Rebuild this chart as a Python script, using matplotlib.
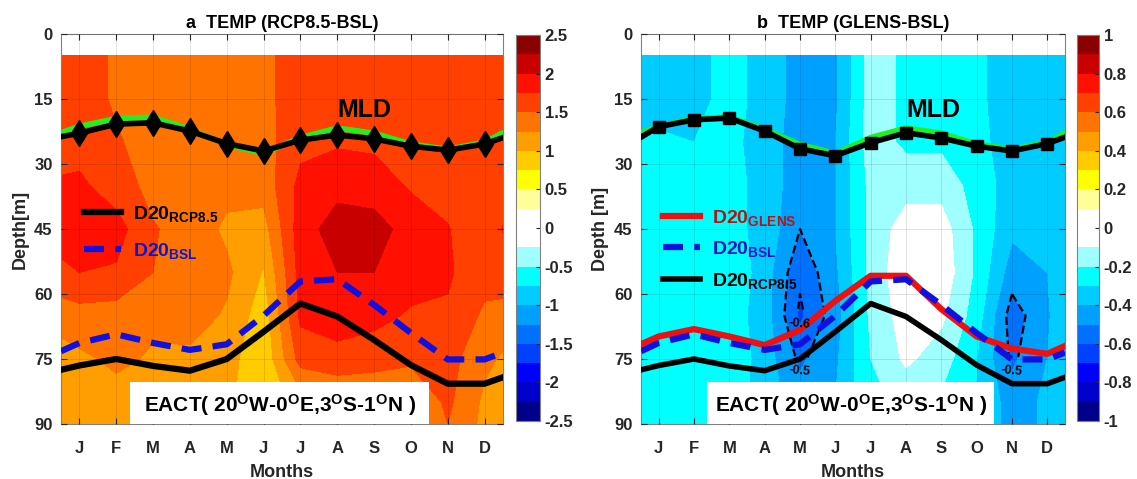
import numpy as np
import matplotlib
matplotlib.use('Agg')
import matplotlib.pyplot as plt
from matplotlib.patches import Rectangle
from matplotlib.ticker import FuncFormatter

plt.rcParams['font.family'] = ['Liberation Sans', 'DejaVu Sans']
plt.rcParams['font.weight'] = 'bold'
plt.rcParams['mathtext.fontset'] = 'custom'
plt.rcParams['mathtext.rm'] = 'Liberation Sans:bold'
plt.rcParams['mathtext.bf'] = 'Liberation Sans:bold'
plt.rcParams['mathtext.it'] = 'Liberation Sans:bold'
plt.rcParams['mathtext.default'] = 'bf'

# months (with the half-month edges used to close the annual cycle)
month_labels = ['J', 'F', 'M', 'A', 'M', 'J', 'J', 'A', 'S', 'O', 'N', 'D']
mon = [0.5, 1, 2, 3, 4, 5, 6, 7, 8, 9, 10, 11, 12, 12.5]
depth = [5, 15, 25, 35, 45, 55, 65, 75, 85, 90]

# TEMP difference RCP8.5 - BSL (degC), rows = depth, cols = mon
temp_rcp = [
    [1.60, 1.60, 1.47, 1.40, 1.40, 1.40, 1.45, 1.60, 1.65, 1.65, 1.65, 1.65, 1.62, 1.60],
    [1.60, 1.60, 1.47, 1.40, 1.40, 1.40, 1.45, 1.60, 1.65, 1.65, 1.65, 1.65, 1.62, 1.60],
    [1.65, 1.65, 1.52, 1.42, 1.35, 1.35, 1.40, 1.68, 1.72, 1.70, 1.65, 1.65, 1.62, 1.62],
    [1.78, 1.80, 1.62, 1.42, 1.40, 1.33, 1.35, 1.82, 1.92, 1.88, 1.72, 1.68, 1.62, 1.65],
    [1.85, 1.88, 1.85, 1.52, 1.40, 1.20, 1.15, 1.88, 2.12, 2.10, 1.90, 1.76, 1.62, 1.76],
    [1.70, 1.75, 1.72, 1.50, 1.42, 1.30, 0.98, 1.85, 2.00, 2.00, 1.85, 1.78, 1.60, 1.65],
    [1.35, 1.40, 1.38, 1.30, 1.35, 1.22, 0.85, 1.80, 1.85, 1.82, 1.72, 1.72, 1.45, 1.40],
    [1.15, 1.20, 1.30, 1.22, 1.20, 1.10, 0.80, 1.60, 1.68, 1.62, 1.55, 1.60, 1.30, 1.22],
    [1.10, 1.12, 1.15, 1.12, 1.12, 1.05, 0.82, 1.10, 1.20, 1.22, 1.25, 1.55, 1.20, 1.15],
    [1.10, 1.12, 1.15, 1.12, 1.12, 1.05, 0.85, 1.10, 1.15, 1.18, 1.22, 1.50, 1.18, 1.12],
]

# TEMP difference GLENS - BSL (degC)
temp_glens = [
    [-0.35, -0.35, -0.33, -0.27, -0.33, -0.45, -0.42, -0.15, -0.22, -0.25, -0.28, -0.35, -0.35, -0.35],
    [-0.35, -0.35, -0.33, -0.27, -0.33, -0.45, -0.42, -0.15, -0.22, -0.25, -0.28, -0.35, -0.35, -0.35],
    [-0.30, -0.28, -0.30, -0.27, -0.35, -0.45, -0.40, -0.15, -0.22, -0.22, -0.27, -0.35, -0.35, -0.30],
    [-0.25, -0.25, -0.25, -0.27, -0.33, -0.47, -0.40, -0.17, -0.14, -0.14, -0.24, -0.35, -0.35, -0.30],
    [-0.22, -0.22, -0.25, -0.27, -0.33, -0.50, -0.40, -0.17, -0.05, -0.05, -0.22, -0.38, -0.38, -0.30],
    [-0.22, -0.22, -0.25, -0.22, -0.35, -0.58, -0.42, -0.17, -0.02, -0.03, -0.22, -0.45, -0.40, -0.30],
    [-0.22, -0.25, -0.22, -0.25, -0.35, -0.62, -0.45, -0.18, -0.05, -0.08, -0.25, -0.55, -0.42, -0.30],
    [-0.25, -0.25, -0.22, -0.22, -0.35, -0.52, -0.42, -0.20, -0.08, -0.15, -0.30, -0.52, -0.40, -0.30],
    [-0.25, -0.25, -0.22, -0.25, -0.35, -0.45, -0.40, -0.22, -0.18, -0.22, -0.30, -0.45, -0.38, -0.30],
    [-0.25, -0.25, -0.22, -0.25, -0.35, -0.45, -0.40, -0.22, -0.18, -0.22, -0.30, -0.45, -0.38, -0.30],
]

# mixed layer depth (m)
mld_bsl = [22.8, 21.3, 19.5, 19.2, 22.0, 25.5, 27.6, 23.9, 21.7, 22.9, 25.4, 26.6, 25.0, 22.8]
mld_rcp = [23.7, 22.9, 20.8, 20.5, 22.4, 25.3, 27.0, 24.5, 23.3, 24.2, 25.9, 26.8, 25.4, 23.9]
mld_glens = [23.8, 21.4, 19.8, 19.4, 22.4, 26.5, 28.1, 25.1, 22.8, 24.0, 25.9, 27.0, 25.3, 23.8]

# 20 degC isotherm depth (m)
d20_bsl = [73.2, 71.3, 69.3, 71.3, 72.9, 71.6, 65.0, 57.1, 56.6, 62.5, 69.0, 75.1, 75.1, 73.5]
d20_rcp = [77.5, 76.5, 75.0, 76.6, 77.7, 75.0, 68.7, 62.2, 65.2, 70.6, 76.4, 80.7, 80.7, 79.2]
d20_glens = [71.6, 69.8, 68.1, 69.8, 71.8, 68.3, 61.6, 55.8, 55.8, 63.5, 69.8, 72.6, 73.8, 72.0]

colors = ['#00008B', '#0000CD', '#0000FF', '#0040FF', '#0070FF', '#00A0FF', '#00CCFF',
          '#00FFFF', '#9FFFFF', '#FFFFFF', '#FFFFFF', '#FFFF99', '#FFFF00', '#FFCC00',
          '#FF9E00', '#FF7400', '#FF4000', '#FF1000', '#C80000', '#8B0000']

W, H = 1137, 479
fig = plt.figure(figsize=(W / 100, H / 100), dpi=100)


def panel(ax, cax, field, vmax, title, ylabel):
    levels = np.linspace(-vmax, vmax, 21)
    cf = ax.contourf(mon, depth, field, levels=levels, colors=colors, zorder=1)
    ax.set_xlim(0.5, 12.5)
    ax.set_ylim(90, 0)
    ax.set_xticks(range(1, 13))
    ax.set_xticklabels(month_labels)
    ax.set_yticks([0, 15, 30, 45, 60, 75, 90])
    ax.tick_params(direction='in', top=True, right=True, labelsize=12, length=4,
                   colors='#262626', labelcolor='#262626')
    ax.tick_params(axis='x', pad=12)
    ax.tick_params(axis='y', pad=6)
    ax.grid(True, color='k', alpha=0.13, lw=0.6)
    ax.set_axisbelow(False)
    for s in ax.spines.values():
        s.set_color('#808080')
        s.set_linewidth(0.8)
    ax.set_title(title, fontsize=13, fontweight='bold', pad=4)
    ax.set_xlabel('Months', fontsize=13, fontweight='bold', labelpad=6, color='#262626')
    ax.set_ylabel(ylabel, fontsize=13, fontweight='bold', labelpad=4, color='#262626')
    cb = fig.colorbar(cf, cax=cax, ticks=np.linspace(-vmax, vmax, 11))
    cb.ax.yaxis.set_major_formatter(FuncFormatter(lambda v, p: '%g' % round(v, 2)))
    cb.ax.tick_params(direction='in', labelsize=12, length=3, colors='#262626')
    cb.outline.set_edgecolor('#808080')
    cb.outline.set_linewidth(0.8)
    ax.text(8.0, 17.5, 'MLD', fontsize=18, fontweight='bold', va='center', ha='left', zorder=6)
    ax.add_patch(Rectangle((2.38, 80.2), 8.12, 9.8, facecolor='white', edgecolor='none', zorder=5))
    ax.text(6.44, 85.6, r'EACT( 20$^{O}$W-0$^{O}$E,3$^{O}$S-1$^{O}$N )', fontsize=15,
            fontweight='bold', ha='center', va='center', zorder=6)
    return cf


# panel a
ax1 = fig.add_axes([61 / W, 55 / H, 442 / W, 390 / H])
cax1 = fig.add_axes([516 / W, 58 / H, 24 / W, 386 / H])
panel(ax1, cax1, temp_rcp, 2.5, 'a  TEMP (RCP8.5-BSL)', 'Depth[m]')
ax1.plot(mon, mld_bsl, color='#22EE22', lw=4, zorder=3)
ax1.plot(mon, mld_rcp, color='k', lw=4, marker='d', ms=13, markevery=range(1, 13), zorder=3)
l1, = ax1.plot(mon, d20_rcp, color='k', lw=4.5, zorder=3, label=r'D20$_{RCP8.5}$')
l2, = ax1.plot(mon, d20_bsl, color='#1010E0', lw=4.5, dashes=(3.2, 1.8), zorder=3,
               label=r'D20$_{BSL}$')
ax1.legend(handles=[l1, l2], loc='upper left', bbox_to_anchor=(0.03, 0.59), frameon=False,
           fontsize=14, handlelength=1.9, handletextpad=0.6, labelspacing=0.9, borderpad=0,
           labelcolor=['k', '#1515C8'])

# panel b
ax2 = fig.add_axes([641 / W, 55 / H, 424 / W, 390 / H])
cax2 = fig.add_axes([1077 / W, 58 / H, 22 / W, 386 / H])
panel(ax2, cax2, temp_glens, 1.0, 'b  TEMP (GLENS-BSL)', 'Depth [m]')
cs = ax2.contour(mon, depth, temp_glens, levels=[-0.6, -0.5], colors='k',
                 linestyles='--', linewidths=1.6, zorder=2)
ax2.clabel(cs, fmt='%g', fontsize=9, inline=True)
ax2.plot(mon, mld_bsl, color='#22EE22', lw=4, zorder=3)
ax2.plot(mon, mld_glens, color='k', lw=4, marker='s', ms=8, markevery=range(1, 13), zorder=3)
g1, = ax2.plot(mon, d20_rcp, color='k', lw=4, zorder=3, label=r'D20$_{RCP8.5}$')
g2, = ax2.plot(mon, d20_glens, color='#F01010', lw=4.5, zorder=3, label=r'D20$_{GLENS}$')
g3, = ax2.plot(mon, d20_bsl, color='#1010E0', lw=4.5, dashes=(3.2, 1.8), zorder=3,
               label=r'D20$_{BSL}$')
ax2.legend(handles=[g2, g3, g1], loc='upper left', bbox_to_anchor=(0.03, 0.58), frameon=False,
           fontsize=14, handlelength=1.9, handletextpad=0.6, labelspacing=0.6, borderpad=0,
           labelcolor=['#B01818', '#1515C8', 'k'])

fig.savefig('out.png', dpi=100)
